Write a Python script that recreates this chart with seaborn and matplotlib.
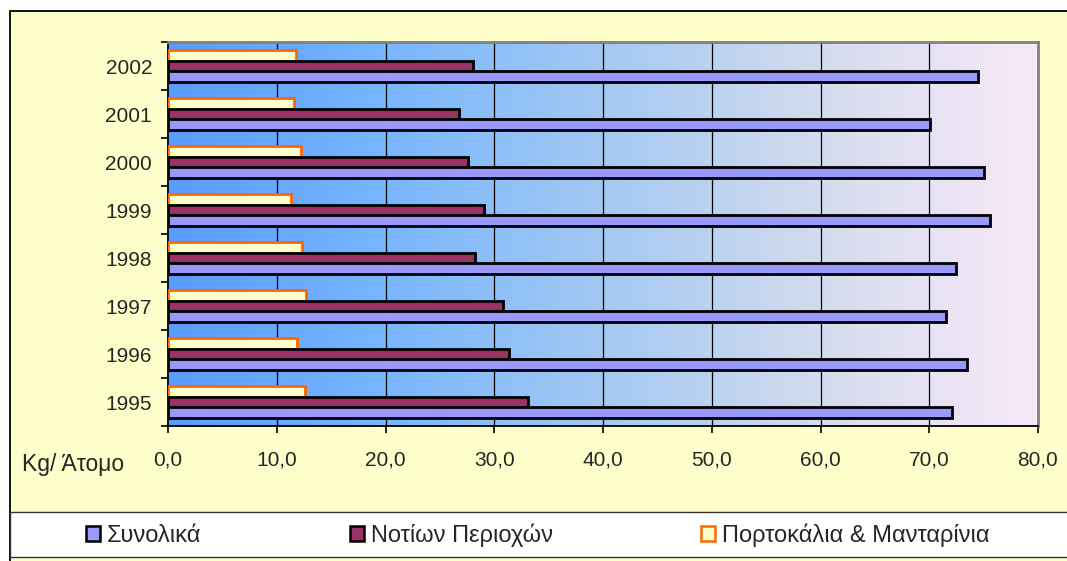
import numpy as np
import pandas as pd
import matplotlib
matplotlib.use("Agg")
import matplotlib.pyplot as plt
import seaborn as sns
from matplotlib.patches import Rectangle, Patch
from matplotlib.colors import LinearSegmentedColormap

# Κατανάλωση εσπεριδοειδών, kg ανά άτομο
years = ["2002", "2001", "2000", "1999", "1998", "1997", "1996", "1995"]
synolika = [74.5, 70.1, 75.0, 75.6, 72.5, 71.5, 73.5, 72.1]
notion = [28.0, 26.8, 27.6, 29.1, 28.2, 30.8, 31.4, 33.1]
portokalia = [11.8, 11.6, 12.2, 11.3, 12.3, 12.7, 11.9, 12.6]

series_names = ["Συνολικά", "Νοτίων Περιοχών", "Πορτοκάλια & Μανταρίνια"]
xticks = [0, 10, 20, 30, 40, 50, 60, 70, 80]
xlabel = "Kg/ Άτομο"

df = pd.DataFrame({
    "year": years * 3,
    "value": synolika + notion + portokalia,
    "series": [series_names[0]] * 8 + [series_names[1]] * 8 + [series_names[2]] * 8,
})

sns.set_theme(style="white")
plt.rcParams["font.family"] = ["Liberation Sans", "DejaVu Sans"]

W, H = 1067, 561
fig = plt.figure(figsize=(W / 100, H / 100), dpi=100)
fig.patch.set_facecolor("white")

# chart area frame and legend band
fig.add_artist(Rectangle((10 / W, -0.05), 1.1, (H - 11) / H + 0.05,
                         transform=fig.transFigure, facecolor="#FFFFCC",
                         edgecolor="black", lw=1.3, zorder=-10))
fig.add_artist(Rectangle((10 / W, 1 - 557 / H), 1.1, 45 / H,
                         transform=fig.transFigure, facecolor="white",
                         edgecolor="#333333", lw=1.0, zorder=-9))

ax = fig.add_axes([168 / W, 1 - 426 / H, (1038 - 168) / W, (426 - 42) / H])

fill = {series_names[0]: "#9999FF", series_names[1]: "#993366",
        series_names[2]: "#FFFFCC"}
edge = {series_names[0]: "black", series_names[1]: "black",
        series_names[2]: "#FF6600"}
hue_order = [series_names[2], series_names[1], series_names[0]]

sns.barplot(data=df, y="year", x="value", hue="series", order=years,
            hue_order=hue_order, palette=fill, orient="h", width=0.67,
            legend=False, ax=ax, saturation=1)

for name, cont in zip(hue_order, ax.containers):
    for bar in cont:
        bar.set_edgecolor(edge[name])
        bar.set_linewidth(2.0)
        bar.set_zorder(3)

# horizontal gradient background of the plot area
cmap = LinearSegmentedColormap.from_list(
    "bg", [(0.0, "#5A9BFF"), (0.25, "#78B6FF"), (0.5, "#A3C9F2"),
           (0.75, "#D3DBEE"), (1.0, "#F9E9F8")])
grad = np.linspace(0, 1, 256).reshape(1, -1)
ax.imshow(grad, extent=[0, 80, 7.5, -0.5], aspect="auto", cmap=cmap, zorder=0)

ax.set_xlim(0, 80)
ax.set_ylim(7.5, -0.5)
ax.set_xticks(xticks)
ax.set_xticklabels([f"{v:.1f}".replace(".", ",") for v in xticks], fontsize=15)
ax.set_yticks(range(len(years)))
ax.set_yticklabels(years, fontsize=15)
ax.set_yticks(np.arange(-0.5, len(years), 1.0), minor=True)
ax.tick_params(axis="y", which="major", length=0, pad=11.5)
ax.tick_params(axis="y", which="minor", length=5, width=1.2, color="black",
               direction="out", left=True)
ax.tick_params(axis="x", which="major", length=5, width=1.2, color="black",
               direction="out", bottom=True, pad=13)
ax.set_xlabel("")
ax.set_ylabel("")

for v in xticks[1:-1]:
    ax.axvline(v, color="black", lw=0.9, zorder=1)

for side in ["left", "bottom"]:
    ax.spines[side].set_color("black")
    ax.spines[side].set_linewidth(1.3)
for side in ["top", "right"]:
    ax.spines[side].set_color("#808080")
    ax.spines[side].set_linewidth(2.0)

fig.text(22 / W, 1 - 471 / H, xlabel, fontsize=16.5, va="baseline", ha="left")

handles = [Patch(facecolor=fill[n], edgecolor=edge[n], lw=1.8) for n in series_names]
fig.legend(handles, series_names, ncol=3, loc="center left",
           bbox_to_anchor=(86 / W, 1 - 535 / H), frameon=False, fontsize=17,
           handlelength=0.6, handleheight=0.6, handletextpad=0.3,
           columnspacing=6.27, borderpad=0, borderaxespad=0)

fig.savefig("out.png", dpi=100)
